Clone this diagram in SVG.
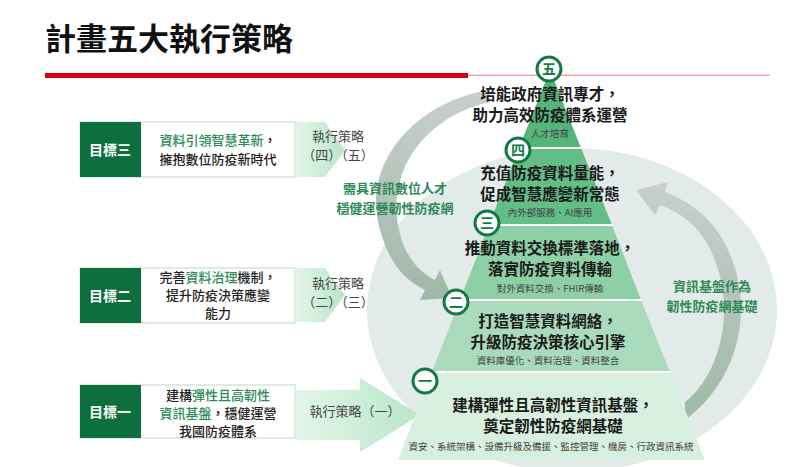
<svg xmlns="http://www.w3.org/2000/svg" width="800" height="467" viewBox="0 0 800 467">
<defs>
<style>
text{font-family:"Noto Sans CJK TC","Noto Sans CJK SC","Liberation Sans",sans-serif}
.t{font-size:15.5px;font-weight:bold;fill:#1a1a1a;text-anchor:middle}
.s{font-size:9.5px;fill:#444;text-anchor:middle}
.g{fill:#2d8a58}
.gl{font-size:13px;font-weight:bold;fill:#2d8a58;text-anchor:middle}
.gb{font-size:14px;font-weight:bold;fill:#fff;text-anchor:middle}
.bx{font-size:13px;font-weight:500;fill:#222;text-anchor:middle}
.st{font-size:13px;fill:#444;text-anchor:middle}
.c{fill:#fff;stroke:#147a45;stroke-width:3}
.cn{font-size:14px;font-weight:bold;fill:#147a45;text-anchor:middle}
</style>
<linearGradient id="ga" x1="0" x2="1"><stop offset="0" stop-color="#e3f5ea"/><stop offset="1" stop-color="#b8e6c8"/></linearGradient>
<linearGradient id="gr" x1="0" y1="0" x2="0" y2="1"><stop offset="0" stop-color="#c8cfcc"/><stop offset="1" stop-color="#a0b8a8"/></linearGradient>
</defs>
<rect width="800" height="467" fill="#fff"/>
<text x="45" y="50" style="font-size:31px;font-weight:bold;fill:#111">計畫五大執行策略</text>
<rect x="45" y="73" width="423" height="5" fill="#d7000f"/>
<rect x="468" y="74.5" width="302" height="1.5" fill="#f4a5a5"/>
<ellipse cx="572" cy="310" rx="205" ry="162" fill="#e2eaea"/>
<g id="connectors">
<path d="M490,90 C420,100 360,160 380,230 C390,265 405,280 425,290 L420,300 L452,298 L440,270 L435,280 C415,270 402,250 398,225 C388,165 430,115 490,102 Z" fill="url(#gr)"/>
<path d="M685,420 C740,380 760,300 720,235 C705,212 685,200 665,192 L668,182 L636,190 L655,215 L660,205 C680,212 697,225 708,245 C740,305 720,375 685,402 Z" fill="url(#gr)"/>
<path d="M296,122 L325,122 L345,150 L325,177 L296,177 Z" fill="url(#ga)"/>
<path d="M296,268 L325,268 L345,295 L325,322 L296,322 Z" fill="url(#ga)"/>
<path d="M296,390 L360,390 L360,378 L420,415 L360,452 L360,440 L296,440 Z" fill="url(#ga)"/>
</g>
<g id="pyramid">
<polygon points="398,460 432,372 670,372 705,460" fill="#d7efdf"/>
<polygon points="432,372 460,300 641,300 670,372" fill="#a8dabb"/>
<polygon points="460,300 489,225 612,225 641,300" fill="#8ed0a6"/>
<polygon points="489,225 519,148 581,148 612,225" fill="#62bd86"/>
<polygon points="519,148 550,70 581,148" fill="#55b47a"/>
<g stroke="#fff" stroke-width="2"><line x1="432" y1="372" x2="670" y2="372"/><line x1="460" y1="300" x2="641" y2="300"/><line x1="489" y1="225" x2="612" y2="225"/><line x1="519" y1="148" x2="581" y2="148"/></g>
</g>
<g id="level5"><circle class="c" cx="549" cy="69" r="12"/><text class="cn" x="549" y="74">五</text>
<text class="t" x="550" y="100">培能政府資訊專才，</text><text class="t" x="550" y="121">助力高效防疫體系運營</text><text class="s" x="550" y="137">人才培育</text></g>
<g id="level4"><circle class="c" cx="518" cy="150" r="12"/><text class="cn" x="518" y="155">四</text>
<text class="t" x="550" y="179">充值防疫資料量能，</text><text class="t" x="550" y="200">促成智慧應變新常態</text><text class="s" x="550" y="216">內外部服務、AI應用</text></g>
<g id="level3"><circle class="c" cx="487" cy="223" r="12"/><text class="cn" x="487" y="228">三</text>
<text class="t" x="550" y="254">推動資料交換標準落地，</text><text class="t" x="550" y="275">落實防疫資料傳輸</text><text class="s" x="550" y="292">對外資料交換、FHIR傳輸</text></g>
<g id="level2"><circle class="c" cx="456" cy="302" r="12"/><text class="cn" x="456" y="307">二</text>
<text class="t" x="548" y="327">打造智慧資料網絡，</text><text class="t" x="548" y="348">升級防疫決策核心引擎</text><text class="s" x="548" y="364">資料庫優化、資料治理、資料整合</text></g>
<g id="level1"><circle class="c" cx="425" cy="381" r="12"/><text class="cn" x="425" y="386">一</text>
<text class="t" x="553" y="411">建構彈性且高韌性資訊基盤，</text><text class="t" x="553" y="432">奠定韌性防疫網基礎</text><text class="s" x="551" y="450">資安、系統架構、設備升級及備援、監控管理、機房、行政資訊系統</text></g>
<g id="goal3"><rect x="80" y="122" width="215" height="55" fill="#fff" stroke="#b9dcc6"/><rect x="80" y="122" width="61" height="55" fill="#0d6e3e"/>
<text class="gb" x="110" y="155">目標三</text>
<text class="bx" x="218" y="145"><tspan class="g">資料引領智慧革新</tspan>，</text><text class="bx" x="218" y="164">擁抱數位防疫新時代</text></g>
<g id="goal2"><rect x="80" y="268" width="215" height="55" fill="#fff" stroke="#b9dcc6"/><rect x="80" y="268" width="61" height="55" fill="#0d6e3e"/>
<text class="gb" x="110" y="301">目標二</text>
<text class="bx" x="218" y="282">完善<tspan class="g">資料治理</tspan>機制，</text><text class="bx" x="218" y="300">提升防疫決策應變</text><text class="bx" x="218" y="318">能力</text></g>
<g id="goal1"><rect x="80" y="385" width="215" height="53" fill="#fff" stroke="#b9dcc6"/><rect x="80" y="385" width="61" height="53" fill="#0d6e3e"/>
<text class="gb" x="110" y="417">目標一</text>
<text class="bx" x="218" y="400">建構<tspan class="g">彈性且高韌性</tspan></text><text class="bx" x="218" y="418"><tspan class="g">資訊基盤</tspan>，穩健運營</text><text class="bx" x="218" y="436">我國防疫體系</text></g>
<g id="labels">
<text class="st" x="338" y="141">執行策略</text><text class="st" x="338" y="160">（四）（五）</text>
<text class="st" x="338" y="288">執行策略</text><text class="st" x="338" y="307">（二）（三）</text>
<text class="st" x="355" y="416">執行策略（一）</text>
<text class="gl" x="395" y="193">需具資訊數位人才</text><text class="gl" x="395" y="213">穩健運營韌性防疫網</text>
<text class="gl" x="712" y="291">資訊基盤作為</text><text class="gl" x="712" y="311">韌性防疫網基礎</text>
</g>
</svg>
